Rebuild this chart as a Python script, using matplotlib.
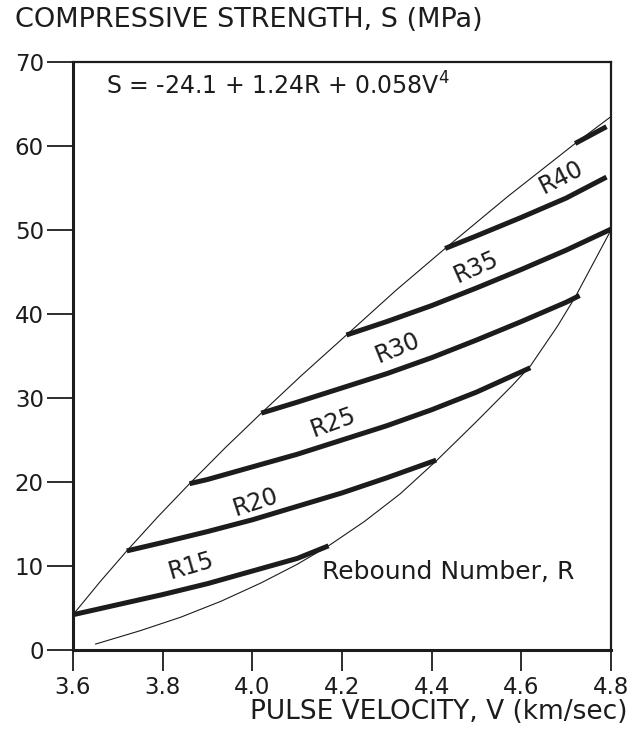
import matplotlib
matplotlib.use("Agg")
import matplotlib.pyplot as plt

plt.rcParams['font.family'] = ['DejaVu Sans']

# ---- data ----
r15_v = [3.60, 3.70, 3.80, 3.90, 4.00, 4.10, 4.17]
r15_s = [4.2, 5.4, 6.6, 7.9, 9.4, 10.9, 12.4]

r20_v = [3.72, 3.80, 3.90, 4.00, 4.10, 4.20, 4.30, 4.41]
r20_s = [11.8, 12.8, 14.1, 15.5, 17.1, 18.7, 20.5, 22.6]

r25_v = [3.86, 3.90, 4.00, 4.10, 4.20, 4.30, 4.40, 4.50, 4.62]
r25_s = [19.8, 20.3, 21.8, 23.3, 25.0, 26.7, 28.6, 30.7, 33.6]

r30_v = [4.02, 4.10, 4.20, 4.30, 4.40, 4.50, 4.60, 4.70, 4.73]
r30_s = [28.2, 29.5, 31.2, 32.9, 34.8, 36.9, 39.1, 41.4, 42.2]

r35_v = [4.21, 4.30, 4.40, 4.50, 4.60, 4.70, 4.80]
r35_s = [37.5, 39.1, 41.0, 43.1, 45.3, 47.6, 50.1]

r40_v = [4.43, 4.50, 4.60, 4.70, 4.79]
r40_s = [47.8, 49.3, 51.5, 53.8, 56.3]

r45_v = [4.72, 4.79]
r45_s = [60.3, 62.3]

upper_v = [3.60, 3.66, 3.72, 3.79, 3.86, 3.94, 4.02, 4.11, 4.21, 4.32, 4.43, 4.57, 4.72, 4.80]
upper_s = [4.2, 8.1, 11.8, 15.9, 19.8, 24.1, 28.2, 32.7, 37.5, 42.8, 47.8, 54.0, 60.3, 63.5]

lower_v = [3.65, 3.75, 3.84, 3.93, 4.02, 4.10, 4.17, 4.25, 4.33, 4.41, 4.50, 4.58, 4.62, 4.68, 4.72, 4.76, 4.80]
lower_s = [0.7, 2.3, 3.9, 5.8, 8.0, 10.2, 12.4, 15.3, 18.6, 22.5, 27.2, 31.5, 33.8, 38.5, 42.0, 46.0, 50.0]

curve_labels = ['R15', 'R20', 'R25', 'R30', 'R35', 'R40']
label_v = [3.87, 4.015, 4.19, 4.335, 4.51, 4.70]
label_s = [8.6, 16.3, 25.7, 34.6, 44.3, 55.0]
label_rot = [16, 18, 20, 22, 24, 27]

x_ticks = [3.6, 3.8, 4.0, 4.2, 4.4, 4.6, 4.8]
x_ticklabels = ['3.6', '3.8', '4.0', '4.2', '4.4', '4.6', '4.8']
y_ticks = [0, 10, 20, 30, 40, 50, 60, 70]

ink = '#1c1c1c'

fig = plt.figure(figsize=(6.39, 7.36), dpi=100)
W, H = 639, 736
ax = fig.add_axes([73 / W, 1 - 650 / H, (611 - 73) / W, (650 - 62) / H])

# envelope (thin)
ax.plot(upper_v, upper_s, color=ink, lw=0.8, solid_capstyle='round')
ax.plot(lower_v, lower_s, color=ink, lw=0.8, solid_capstyle='round')

# rebound-number curves (thick)
for vv, ss in [(r15_v, r15_s), (r20_v, r20_s), (r25_v, r25_s), (r30_v, r30_s),
               (r35_v, r35_s), (r40_v, r40_s), (r45_v, r45_s)]:
    ax.plot(vv, ss, color=ink, lw=3.6, solid_capstyle='butt', solid_joinstyle='round')

for lab, lv, ls, rot in zip(curve_labels, label_v, label_s, label_rot):
    ax.text(lv, ls, lab, rotation=rot, rotation_mode='anchor', ha='center', va='bottom',
            fontsize=17, color=ink)

ax.text(3.674, 67.1, 'S = -24.1 + 1.24R + 0.058V$^{4}$', ha='left', va='center',
        fontsize=17, color=ink)
ax.text(4.155, 9.3, 'Rebound Number, R', ha='left', va='center', fontsize=18, color=ink)

ax.set_xlim(3.6, 4.8)
ax.set_ylim(0, 70)
ax.set_xticks(x_ticks)
ax.set_xticklabels(x_ticklabels)
ax.set_yticks(y_ticks)
ax.tick_params(axis='y', direction='out', length=19, width=1.3, colors=ink,
               labelsize=16.5, pad=2)
ax.tick_params(axis='x', direction='out', length=15, width=1.3, colors=ink,
               labelsize=16.5, pad=4)
for side in ['left', 'bottom']:
    ax.spines[side].set_linewidth(2.2)
    ax.spines[side].set_color(ink)
for side in ['top', 'right']:
    ax.spines[side].set_linewidth(1.6)
    ax.spines[side].set_color(ink)

fig.text(15 / W, 1 - 20 / H, 'COMPRESSIVE STRENGTH, S (MPa)', ha='left', va='center',
         fontsize=19.5, color=ink)
fig.text(628 / W, 1 - 712 / H, 'PULSE VELOCITY, V (km/sec)', ha='right', va='center',
         fontsize=19, color=ink)

fig.savefig('out.png', dpi=100, facecolor='white')
